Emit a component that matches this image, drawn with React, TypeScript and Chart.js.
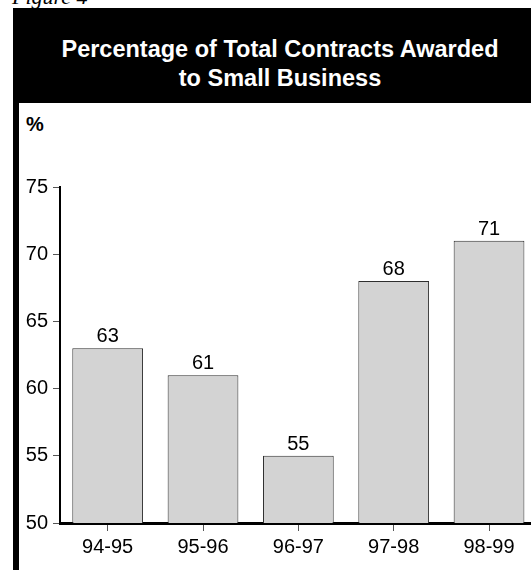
import React, { useEffect, useRef } from "react";
import { Chart, registerables } from "chart.js";

Chart.register(...registerables);

const categories = ["94-95", "95-96", "96-97", "97-98", "98-99"];
const percentages = [63, 61, 55, 68, 71];
const yMin = 50;
const yMax = 75;
const yStep = 5;
const titleLines = ["Percentage of Total Contracts Awarded", "to Small Business"];
const figureLabel = "Figure 4";
const unitLabel = "%";

const FONT = '"Liberation Sans", Arial, Helvetica, sans-serif';

const valueLabels = {
  id: "valueLabels",
  afterDatasetsDraw(chart: any) {
    const ctx = chart.ctx;
    const meta = chart.getDatasetMeta(0);
    ctx.save();
    ctx.fillStyle = "#000";
    ctx.font = `20px ${FONT}`;
    ctx.textAlign = "center";
    ctx.textBaseline = "alphabetic";
    meta.data.forEach((el: any, i: number) => {
      ctx.fillText(String(percentages[i]), el.x, el.y - 6);
    });
    ctx.restore();
  },
};

export default function App() {
  const canvasRef = useRef<HTMLCanvasElement>(null);

  useEffect(() => {
    if (!canvasRef.current) return;
    const chart = new Chart(canvasRef.current, {
      type: "bar",
      data: {
        labels: categories,
        datasets: [
          {
            data: percentages,
            backgroundColor: "#d3d3d3",
            borderColor: "#2e2e2e",
            borderWidth: 1,
            categoryPercentage: 1,
            barPercentage: 0.742,
          },
        ],
      },
      plugins: [valueLabels],
      options: {
        animation: false,
        responsive: false,
        maintainAspectRatio: false,
        devicePixelRatio: 1,
        layout: { padding: { top: 84, left: 0, right: 22.3, bottom: 0 } },
        plugins: {
          legend: { display: false },
          tooltip: { enabled: false },
          title: { display: false },
        },
        scales: {
          x: {
            offset: true,
            afterFit: (scale: any) => {
              scale.height = 47;
            },
            grid: {
              offset: false,
              drawOnChartArea: false,
              drawTicks: true,
              tickLength: 8,
              tickColor: "#555",
              tickWidth: 1,
            },
            border: { display: true, color: "#000", width: 3 },
            ticks: {
              color: "#000",
              font: { family: FONT, size: 20 },
              padding: 4,
              maxRotation: 0,
            },
          },
          y: {
            min: yMin,
            max: yMax,
            afterFit: (scale: any) => {
              scale.width = 41;
            },
            grid: {
              drawOnChartArea: false,
              drawTicks: true,
              tickLength: 7,
              tickColor: "#555",
              tickWidth: 1,
            },
            border: { display: true, color: "#000", width: 2 },
            ticks: {
              stepSize: yStep,
              color: "#000",
              font: { family: FONT, size: 20 },
              padding: 5,
            },
          },
        },
      },
    });
    return () => chart.destroy();
  }, []);

  return (
    <div
      style={{
        position: "fixed",
        left: 0,
        top: 0,
        width: 531,
        height: 570,
        overflow: "hidden",
        background: "#fff",
      }}
    >
      <div
        style={{
          position: "absolute",
          left: 12,
          top: -14,
          fontFamily: '"Liberation Serif", "Times New Roman", serif',
          fontStyle: "italic",
          fontSize: 22,
          lineHeight: "22px",
          color: "#000",
          whiteSpace: "nowrap",
        }}
      >
        {figureLabel}
      </div>
      <div
        style={{
          position: "absolute",
          left: 13,
          top: 8,
          width: 560,
          height: 600,
          background: "#000",
        }}
      />
      <div
        style={{
          position: "absolute",
          left: 19,
          top: 103,
          width: 560,
          height: 500,
          background: "#fff",
        }}
      />
      <div
        style={{
          position: "absolute",
          left: 13,
          top: 35,
          width: 534,
          textAlign: "center",
          color: "#fff",
          fontFamily: FONT,
          fontWeight: "bold",
          fontSize: 23.5,
          lineHeight: "29px",
          whiteSpace: "nowrap",
        }}
      >
        {titleLines.map((l) => (
          <div key={l}>{l}</div>
        ))}
      </div>
      <div
        style={{
          position: "absolute",
          left: 26,
          top: 114,
          fontFamily: FONT,
          fontWeight: "bold",
          fontSize: 20,
          lineHeight: "20px",
          color: "#000",
        }}
      >
        {unitLabel}
      </div>
      <canvas
        ref={canvasRef}
        width={540}
        height={467}
        style={{ position: "absolute", left: 19, top: 103, width: 540, height: 467 }}
      />
    </div>
  );
}
